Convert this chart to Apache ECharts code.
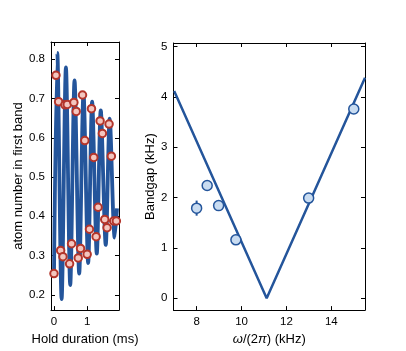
<!DOCTYPE html>
<html lang="en">
<head>
<meta charset="UTF-8">
<title></title>
<script src="https://cdn.jsdelivr.net/npm/echarts@6/dist/echarts.min.js"></script>
<style>
  html, body { margin: 0; padding: 0; background: #fff; }
  #chart { width: 406px; height: 351px; }
</style>
</head>
<body>
<div id="chart"></div>
<script type="text/javascript">
// left panel: measured populations
var holdTimes = [0.00, 0.06, 0.14, 0.20, 0.27, 0.33, 0.40, 0.47, 0.53, 0.60, 0.67, 0.73, 0.80, 0.86, 0.93,
                 1.00, 1.07, 1.13, 1.20, 1.27, 1.33, 1.39, 1.46, 1.53, 1.60, 1.66, 1.73, 1.80, 1.88];
var populations = [0.254, 0.759, 0.692, 0.313, 0.297, 0.684, 0.685, 0.279, 0.330, 0.690, 0.667, 0.294, 0.318, 0.709, 0.593,
                   0.303, 0.367, 0.674, 0.550, 0.348, 0.423, 0.643, 0.611, 0.392, 0.371, 0.635, 0.553, 0.388, 0.388];
var fitTimes = [0.00, 0.10, 0.23, 0.36, 0.49, 0.62, 0.76, 0.89, 1.03, 1.15, 1.29, 1.41, 1.56, 1.68, 1.83, 1.90];
var fitValues = [0.25, 0.816, 0.189, 0.779, 0.225, 0.746, 0.254, 0.714, 0.281, 0.692, 0.305, 0.670, 0.327, 0.649, 0.346, 0.42];
var holdTicks = [0, 1];
var popTicks = [0.2, 0.3, 0.4, 0.5, 0.6, 0.7, 0.8];

// right panel: band gap
var freqs = [8.0, 8.47, 8.98, 9.75, 12.99, 15.0];
var gaps = [1.79, 2.24, 1.84, 1.16, 1.99, 3.76];
var gapErrors = [0.15, 0.05, 0.05, 0.05, 0.05, 0.05];
var modelFreqs = [7.0, 11.12, 15.5];
var modelGaps = [4.12, 0.0, 4.38];
var freqTicks = [8, 10, 12, 14];
var gapTicks = [0, 1, 2, 3, 4, 5];

var blue = '#24559b';
var font = 'Liberation Sans';

function pairs(xs, ys) {
    var out = [];
    for (var i = 0; i < xs.length; i++) out.push([xs[i], ys[i]]);
    return out;
}

function axis(opts) {
    var a = {
        gridIndex: opts.grid,
        type: 'value',
        position: opts.position,
        min: opts.min,
        max: opts.max,
        splitLine: { show: false },
        axisLine: { show: true, onZero: false, lineStyle: { color: '#000', width: 1 } },
        axisTick: { show: true, inside: true, length: 4, customValues: opts.ticks, lineStyle: { color: '#000' } },
        axisLabel: {
            show: !!opts.labels, customValues: opts.ticks, color: '#000', fontFamily: font, fontSize: 11.5, margin: 6,
            formatter: opts.formatter
        }
    };
    if (opts.name) {
        a.name = opts.name;
        a.nameLocation = 'middle';
        a.nameGap = opts.nameGap;
        a.nameTextStyle = { color: '#000', fontFamily: font, fontSize: 13, rich: opts.rich };
    }
    return a;
}

var chart = echarts.init(document.getElementById('chart'), null, { renderer: 'canvas' });

var italic = { i: { fontStyle: 'italic', fontFamily: font, fontSize: 13, color: '#000' } };

var option = {
    animation: false,
    grid: [
        { left: 51, top: 42, width: 68, height: 270 },
        { left: 173.5, top: 43, width: 191.5, height: 269 }
    ],
    xAxis: [
        axis({ grid: 0, position: 'bottom', min: -0.09, max: 1.96, ticks: holdTicks, labels: true,
               name: 'Hold duration (ms)', nameGap: 14 }),
        axis({ grid: 0, position: 'top', min: -0.09, max: 1.96, ticks: holdTicks }),
        axis({ grid: 1, position: 'bottom', min: 6.97, max: 15.5, ticks: freqTicks, labels: true,
               name: '{i|ω}/(2{i|π}) (kHz)', nameGap: 16, rich: italic }),
        axis({ grid: 1, position: 'top', min: 6.97, max: 15.5, ticks: freqTicks })
    ],
    yAxis: [
        axis({ grid: 0, position: 'left', min: 0.161, max: 0.844, ticks: popTicks, labels: true,
               formatter: function (v) { return v.toFixed(1); },
               name: 'atom number in first band', nameGap: 23 }),
        axis({ grid: 0, position: 'right', min: 0.161, max: 0.844, ticks: popTicks }),
        axis({ grid: 1, position: 'left', min: -0.237, max: 5.073, ticks: gapTicks, labels: true,
               name: 'Bandgap (kHz)', nameGap: 13 }),
        axis({ grid: 1, position: 'right', min: -0.237, max: 5.073, ticks: gapTicks })
    ],
    series: [
        {
            type: 'line', xAxisIndex: 0, yAxisIndex: 0,
            data: pairs(fitTimes, fitValues),
            smooth: 0.3, showSymbol: false,
            lineStyle: { color: blue, width: 3.8 },
            z: 2
        },
        {
            type: 'scatter', xAxisIndex: 0, yAxisIndex: 0,
            data: pairs(holdTimes, populations),
            symbolSize: 7.5,
            itemStyle: { color: '#f3c6bf', borderColor: '#b3352b', borderWidth: 2, opacity: 1 },
            z: 3
        },
        {
            type: 'line', xAxisIndex: 2, yAxisIndex: 2,
            data: pairs(modelFreqs, modelGaps),
            showSymbol: false,
            lineStyle: { color: blue, width: 2.5 },
            z: 2
        },
        {
            type: 'custom', xAxisIndex: 2, yAxisIndex: 2,
            data: freqs.map(function (f, i) { return [f, gaps[i] - gapErrors[i], gaps[i] + gapErrors[i]]; }),
            renderItem: function (params, api) {
                var lo = api.coord([api.value(0), api.value(1)]);
                var hi = api.coord([api.value(0), api.value(2)]);
                return {
                    type: 'line',
                    shape: { x1: lo[0], y1: lo[1], x2: hi[0], y2: hi[1] },
                    style: { stroke: blue, lineWidth: 2 }
                };
            },
            z: 3
        },
        {
            type: 'scatter', xAxisIndex: 2, yAxisIndex: 2,
            data: pairs(freqs, gaps),
            symbolSize: 10,
            itemStyle: { color: '#c9dcf1', borderColor: '#24559b', borderWidth: 1.5, opacity: 1 },
            z: 4
        }
    ]
};

chart.setOption(option);
</script>
</body>
</html>
